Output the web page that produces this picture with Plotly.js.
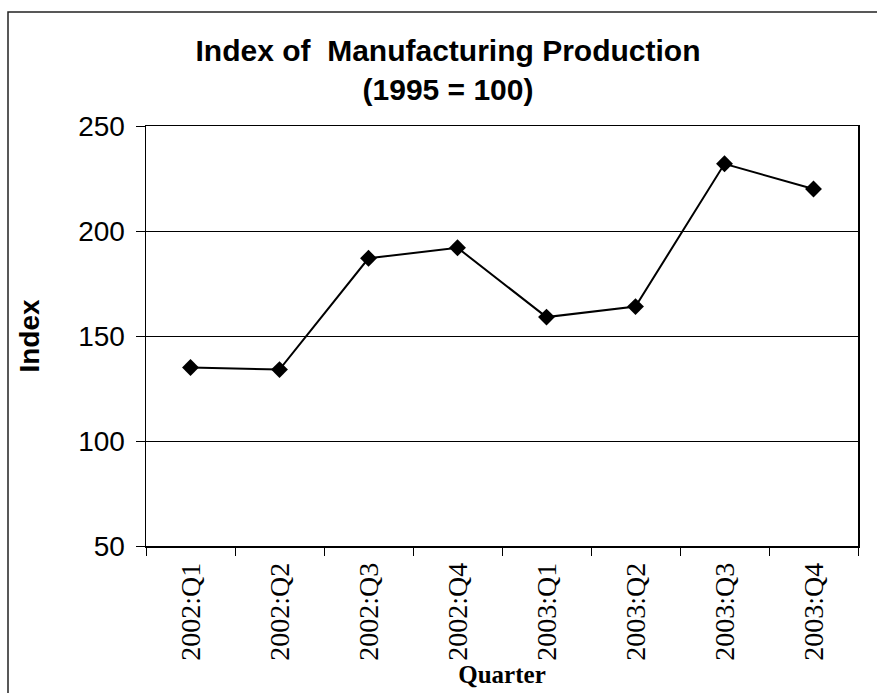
<!DOCTYPE html>
<html>
<head>
<meta charset="utf-8">
<script src="https://cdn.plot.ly/plotly-3.0.1.min.js"></script>
<style>
html,body{margin:0;padding:0;background:#fff;}
#chart{width:877px;height:693px;}
</style>
</head>
<body>
<div id="chart"></div>
<script>
const quarters = ["2002:Q1","2002:Q2","2002:Q3","2002:Q4","2003:Q1","2003:Q2","2003:Q3","2003:Q4"];
const indexValues = [135, 134, 187, 192, 159, 164, 232, 220];
const yTicks = [50, 100, 150, 200, 250];

const W = 877, H = 693;
const m = {l: 146, r: 19, t: 126, b: 147};
const pw = W - m.l - m.r, ph = H - m.t - m.b;
const fx0 = (8 - m.l) / pw, fy1 = (H - m.b - 12) / ph;

const SERIF = '"Liberation Serif", "Times New Roman", serif';
const SANS = '"Liberation Sans", Arial, sans-serif';

const trace = {
  x: quarters, y: indexValues, type: 'scatter', mode: 'lines+markers',
  line: {color: '#000', width: 2},
  marker: {symbol: 'diamond', size: 13, color: '#000'},
  hoverinfo: 'x+y'
};

const layout = {
  width: W, height: H,
  margin: m,
  paper_bgcolor: '#fff', plot_bgcolor: '#fff',
  showlegend: false,
  title: {
    text: 'Index of  Manufacturing Production<br>(1995 = 100)',
    font: {family: SANS, size: 30, color: '#000', weight: 'bold'},
    x: 448 / W, xref: 'container', xanchor: 'center',
    y: 1 - 61 / H, yref: 'container', yanchor: 'top'
  },
  xaxis: {
    type: 'category',
    range: [-0.5, quarters.length - 0.5],
    tickson: 'boundaries',
    tickmode: 'array',
    tickvals: quarters,
    ticktext: quarters,
    ticks: 'outside', ticklen: 8, tickwidth: 1, tickcolor: '#000',
    tickangle: -90,
    ticklabelstandoff: 4,
    tickfont: {family: SERIF, size: 28, color: '#000'},
    showline: true, linecolor: '#000', linewidth: 1.5, mirror: true,
    showgrid: false, zeroline: false,
    automargin: false,
    title: {
      text: '<b>Quarter</b>',
      font: {family: SERIF, size: 25, color: '#000'},
      standoff: 3
    }
  },
  yaxis: {
    range: [50, 250],
    tickvals: yTicks,
    ticks: 'outside', ticklen: 9, tickwidth: 1, tickcolor: '#000',
    ticklabelstandoff: 5,
    tickfont: {family: SANS, size: 28, color: '#000'},
    showline: true, linecolor: '#000', linewidth: 1.5, mirror: true,
    showgrid: true, gridcolor: '#000', gridwidth: 1,
    zeroline: false,
    automargin: false,
    title: {
      text: '<b>Index</b>',
      font: {family: SANS, size: 28, color: '#000'},
      standoff: 30
    }
  },
  shapes: [{
    type: 'rect', xref: 'paper', yref: 'paper',
    x0: fx0, x1: 1.2, y0: -0.6, y1: fy1,
    line: {color: '#222', width: 1.5}, fillcolor: 'rgba(0,0,0,0)', layer: 'below'
  }]
};

Plotly.newPlot('chart', [trace], layout, {displayModeBar: false, staticPlot: true});
</script>
</body>
</html>
